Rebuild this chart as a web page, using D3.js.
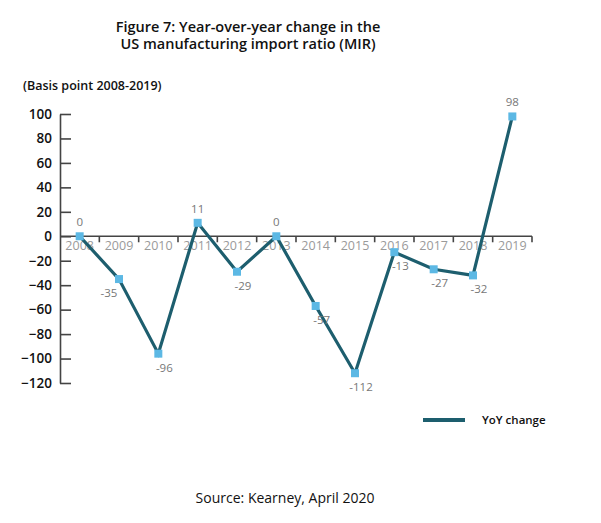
<!DOCTYPE html>
<html>
<head>
<meta charset="utf-8">
<script src="https://cdn.jsdelivr.net/npm/d3@7"></script>
<style>
  body { margin: 0; background: #fff; }
  svg text { font-family: "Open Sans", "Noto Sans", sans-serif; }
</style>
</head>
<body>
<div id="chart"></div>
<script>
var years = ['2008', '2009', '2010', '2011', '2012', '2013', '2014', '2015', '2016', '2017', '2018', '2019'];
var yoyChange = [0, -35, -96, 11, -29, 0, -57, -112, -13, -27, -32, 98];
var yTicks = [100, 80, 60, 40, 20, 0, -20, -40, -60, -80, -100, -120];

var width = 601;
var height = 523;
var plot = {left: 60, right: 532, top: 114, bottom: 383};

var svg = d3.select('#chart')
	.append('svg')
	.attr('width', width)
	.attr('height', height);

// titles
var title = svg.append('text')
	.attr('text-anchor', 'middle')
	.style('font-size', '14.5px')
	.style('font-weight', 600)
	.attr('fill', '#111');
title.append('tspan').attr('x', 248).attr('y', 32).text('Figure 7: Year-over-year change in the');
title.append('tspan').attr('x', 248).attr('y', 49).text('US manufacturing import ratio (MIR)');

svg.append('text')
	.attr('x', 23)
	.attr('y', 90)
	.style('font-size', '12.5px')
	.style('font-weight', 600)
	.attr('fill', '#111')
	.text('(Basis point 2008-2019)');

var x = d3.scaleBand()
	.domain(years)
	.range([plot.left, plot.right])
	.padding(0);

var y = d3.scaleLinear()
	.domain([-120, 100])
	.range([plot.bottom, plot.top]);

// y axis, ticks pointing into the plot
var yAxis = svg.append('g')
	.attr('transform', 'translate(' + plot.left + ',0)')
	.call(d3.axisLeft(y).tickValues(yTicks).tickSize(-11).tickSizeOuter(0).tickPadding(8));
yAxis.select('.domain').attr('stroke', '#444').attr('stroke-width', 1.6);
yAxis.selectAll('.tick line').attr('stroke', '#444').attr('stroke-width', 1.6);
yAxis.selectAll('.tick text')
	.attr('fill', '#111')
	.style('font-size', '13.5px')
	.style('font-weight', 600);

// x axis along zero, ticks at band boundaries
var xAxis = svg.append('g')
	.attr('transform', 'translate(0,' + y(0) + ')');
xAxis.append('line')
	.attr('x1', plot.left)
	.attr('x2', plot.right)
	.attr('stroke', '#444')
	.attr('stroke-width', 1.6);
xAxis.selectAll('line.tick')
	.data(years)
	.enter()
	.append('line')
	.attr('class', 'tick')
	.attr('x1', function (d) { return x(d) + x.bandwidth(); })
	.attr('x2', function (d) { return x(d) + x.bandwidth(); })
	.attr('y1', 0)
	.attr('y2', 6)
	.attr('stroke', '#444')
	.attr('stroke-width', 1.6);
xAxis.selectAll('text')
	.data(years)
	.enter()
	.append('text')
	.attr('text-anchor', 'middle')
	.attr('x', function (d) { return x(d) + x.bandwidth() / 2; })
	.attr('y', 14)
	.attr('fill', '#9a9a9a')
	.style('font-size', '12.5px')
	.text(function (d) { return d; });

var points = years.map(function (d, i) {
	return {year: d, val: yoyChange[i]};
});

var cx = function (d) { return x(d.year) + x.bandwidth() / 2; };

var line = d3.line()
	.x(cx)
	.y(function (d) { return y(d.val); });

svg.append('path')
	.datum(points)
	.attr('d', line)
	.attr('fill', 'none')
	.attr('stroke', '#1d5e6e')
	.attr('stroke-width', 3.2)
	.attr('stroke-linejoin', 'miter');

var sq = 8;
svg.selectAll('rect.marker')
	.data(points)
	.enter()
	.append('rect')
	.attr('class', 'marker')
	.attr('x', function (d) { return cx(d) - sq / 2; })
	.attr('y', function (d) { return y(d.val) - sq / 2; })
	.attr('width', sq)
	.attr('height', sq)
	.attr('fill', '#5cb8e4');

// value labels, above for non-negative, below for negative
svg.selectAll('text.val')
	.data(points)
	.enter()
	.append('text')
	.attr('class', 'val')
	.attr('text-anchor', 'middle')
	.attr('x', function (d, i) {
		if (d.val >= 0) return cx(d);
		if (i == 1) return cx(d) - 10;
		return cx(d) + 6;
	})
	.attr('y', function (d) {
		return d.val >= 0 ? y(d.val) - 10 : y(d.val) + 18;
	})
	.attr('fill', '#777777')
	.style('font-size', '11.5px')
	.text(function (d) { return d.val; });

// legend
svg.append('line')
	.attr('x1', 423)
	.attr('x2', 465)
	.attr('y1', 420)
	.attr('y2', 420)
	.attr('stroke', '#1d5e6e')
	.attr('stroke-width', 4);
svg.append('text')
	.attr('x', 482)
	.attr('y', 424)
	.attr('fill', '#111')
	.style('font-size', '11.5px')
	.style('font-weight', 600)
	.text('YoY change');

svg.append('text')
	.attr('text-anchor', 'middle')
	.attr('x', 285)
	.attr('y', 503)
	.attr('fill', '#111')
	.style('font-size', '14px')
	.text('Source: Kearney, April 2020');
</script>
</body>
</html>
